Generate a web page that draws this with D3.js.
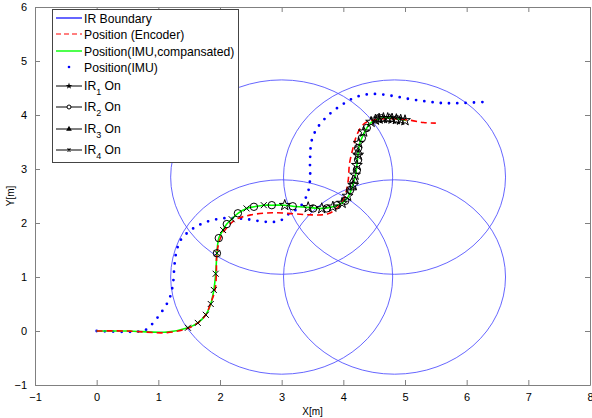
<!DOCTYPE html>
<html>
<head>
<meta charset="utf-8">
<script src="https://cdn.jsdelivr.net/npm/d3@7"></script>
<style>
  body { margin: 0; background: #fff; }
  svg { font-family: "Liberation Sans", Arial, sans-serif; }
</style>
</head>
<body>
<svg id="chart" width="592" height="418"></svg>
<script>
// IR sensor coverage circles (centre x, centre y, radius) in metres
const irCenterX = [3.0, 4.83, 3.0, 4.83];
const irCenterY = [2.85, 2.85, 1.0, 1.0];
const irRadius = 1.8;

// trajectories [x, y] in metres
const encoderPath = [[0,0],[0.5,0],[1.14,-0.03],[1.48,0.05],[1.64,0.15],[1.77,0.3],[1.85,0.52],[1.92,0.76],[1.94,1.04],[1.95,1.44],[2.0,1.7],[2.1,1.9],[2.25,2.06],[2.5,2.15],[2.85,2.19],[3.2,2.17],[3.5,2.15],[3.75,2.17],[3.92,2.3],[4.03,2.52],[4.08,2.8],[4.1,3.1],[4.16,3.4],[4.23,3.66],[4.35,3.85],[4.5,3.91],[4.8,3.93],[5.1,3.9],[5.3,3.86],[5.5,3.85]];
const imuCompPath = [[0,0],[0.5,0],[1.14,-0.02],[1.48,0.06],[1.64,0.15],[1.77,0.3],[1.85,0.5],[1.9,0.76],[1.93,1.06],[1.95,1.44],[1.98,1.72],[2.05,1.87],[2.11,1.98],[2.19,2.07],[2.29,2.18],[2.43,2.27],[2.55,2.3],[2.71,2.33],[2.84,2.33],[3.05,2.33],[3.18,2.31],[3.43,2.29],[3.65,2.27],[3.83,2.3],[3.98,2.37],[4.07,2.47],[4.13,2.62],[4.19,2.85],[4.22,3.07],[4.24,3.3],[4.26,3.45],[4.31,3.6],[4.38,3.76],[4.46,3.87],[4.6,3.94],[4.8,3.94],[5.02,3.9]];
const imuPath = [[0,0],[0.75,0],[0.83,0.05],[1.02,0.3],[1.18,0.6],[1.24,0.9],[1.26,1.2],[1.29,1.45],[1.36,1.68],[1.54,1.88],[1.78,2.02],[2.08,2.09],[2.43,2.07],[2.76,2.02],[2.97,2.04],[3.13,2.18],[3.3,2.3],[3.42,2.55],[3.46,2.8],[3.46,3.17],[3.49,3.54],[3.59,3.78],[3.78,4.02],[3.98,4.19],[4.2,4.33],[4.46,4.39],[4.76,4.36],[5.05,4.3],[5.35,4.25],[5.62,4.22],[5.89,4.22],[6.26,4.24]];

// IR detections
const ir1On = [[3.05,2.33],[3.43,2.29],[3.65,2.27],[3.83,2.3],[3.98,2.37],[4.07,2.5],[4.16,2.7],[4.19,2.89],[4.22,3.07],[4.24,3.26],[4.25,3.48],[4.33,3.69],[4.45,3.87],[4.52,3.91],[4.58,3.93],[4.65,3.94],[4.72,3.94],[4.79,3.93],[4.86,3.92],[4.93,3.91],[5.0,3.9]];
const ir2On = [[1.95,1.44],[1.98,1.72],[2.11,1.98],[2.29,2.18],[2.55,2.3],[2.84,2.33],[3.18,2.31],[3.51,2.27],[3.73,2.27],[3.9,2.33],[4.03,2.41],[4.11,2.61],[4.22,2.98],[4.24,3.17],[4.24,3.39],[4.3,3.57],[4.38,3.76],[4.62,3.94],[4.87,3.92]];
const ir3On = [[4.14,2.66],[4.17,2.8],[4.24,3.31],[4.55,3.92],[4.75,3.93]];
const ir4On = [[1.48,0.06],[1.64,0.15],[1.77,0.3],[1.85,0.5],[1.9,0.76],[1.93,1.06],[1.95,1.44],[2.05,1.87],[2.19,2.07],[2.43,2.27],[2.71,2.33]];

const xTicks = [-1, 0, 1, 2, 3, 4, 5, 6, 7, 8];
const yTicks = [-1, 0, 1, 2, 3, 4, 5, 6];
const legendLabels = ["IR Boundary", "Position (Encoder)", "Position(IMU,compansated)", "Position(IMU)", "IR1", "IR2", "IR3", "IR4"];

const svg = d3.select("#chart");
const plotLeft = 35, plotRight = 590, plotTop = 7, plotBottom = 385;
const axisGray = "#808080";

const x = d3.scaleLinear().domain([-1, 8]).range([plotLeft, plotRight]);
const y = d3.scaleLinear().domain([-1, 6]).range([plotBottom, plotTop]);

// axes: MATLAB style box with inward ticks on all sides
const tickLen = 5;
svg.append("g").attr("transform", `translate(0,${plotBottom})`)
    .call(d3.axisBottom(x).tickValues(xTicks).tickSizeInner(-tickLen).tickSizeOuter(0).tickPadding(8).tickFormat(d3.format("d")));
svg.append("g").attr("transform", `translate(0,${plotTop})`)
    .call(d3.axisTop(x).tickValues(xTicks).tickSizeInner(-tickLen).tickSizeOuter(0).tickFormat(""));
svg.append("g").attr("transform", `translate(${plotLeft},0)`)
    .call(d3.axisLeft(y).tickValues(yTicks).tickSizeInner(-tickLen).tickSizeOuter(0).tickPadding(8).tickFormat(d3.format("d")));
svg.append("g").attr("transform", `translate(${plotRight},0)`)
    .call(d3.axisRight(y).tickValues(yTicks).tickSizeInner(-tickLen).tickSizeOuter(0).tickFormat(""));

svg.selectAll(".domain").attr("stroke", axisGray);
svg.selectAll(".tick line").attr("stroke", axisGray);
svg.selectAll(".tick text").attr("font-size", 11).attr("fill", "#000")
    .attr("font-family", "'Liberation Sans', Arial, sans-serif");

svg.append("text").attr("x", (plotLeft + plotRight) / 2).attr("y", 415)
    .attr("text-anchor", "middle").attr("font-size", 10).text("X[m]");
svg.append("text").attr("transform", `translate(14,${(plotTop + plotBottom) / 2}) rotate(-90)`)
    .attr("text-anchor", "middle").attr("font-size", 10).text("Y[m]");

const plot = svg.append("g");

// IR boundary circles
plot.selectAll("ellipse.ir")
    .data(irCenterX.map((cx, i) => [cx, irCenterY[i]]))
    .enter().append("ellipse")
    .attr("class", "ir")
    .attr("cx", d => x(d[0])).attr("cy", d => y(d[1]))
    .attr("rx", x(irRadius) - x(0)).attr("ry", y(0) - y(irRadius))
    .attr("fill", "none").attr("stroke", "#5555ff").attr("stroke-width", 0.9);

const line = d3.line().x(d => x(d[0])).y(d => y(d[1])).curve(d3.curveCatmullRom);

plot.append("path").attr("d", line(imuPath))
    .attr("fill", "none").attr("stroke", "#0000ff").attr("stroke-width", 2.8)
    .attr("stroke-linecap", "round").attr("stroke-dasharray", "0 8.3");

plot.append("path").attr("d", line(imuCompPath))
    .attr("fill", "none").attr("stroke", "#00ff00").attr("stroke-width", 1.6);

plot.append("path").attr("d", line(encoderPath))
    .attr("fill", "none").attr("stroke", "#ff0000").attr("stroke-width", 1.6)
    .attr("stroke-dasharray", "6 4");

// marker shapes
const starPath = d3.symbol().type(d3.symbolStar).size(36)();
const trianglePath = d3.symbol().type(d3.symbolTriangle).size(32)();
const crossPath = "M-3,-3L3,3M-3,3L3,-3";

function drawMarkers(data, shape) {
    const g = plot.append("g");
    data.forEach(d => {
        const tx = x(d[0]), ty = y(d[1]);
        if (shape === "circle") {
            g.append("circle").attr("cx", tx).attr("cy", ty).attr("r", 3.7)
                .attr("fill", "none").attr("stroke", "#000").attr("stroke-width", 1);
        } else {
            const p = shape === "star" ? starPath : shape === "triangle" ? trianglePath : crossPath;
            g.append("path").attr("d", p).attr("transform", `translate(${tx},${ty})`)
                .attr("fill", "none").attr("stroke", "#000").attr("stroke-width", 1);
        }
    });
}
drawMarkers(ir4On, "cross");
drawMarkers(ir2On, "circle");
drawMarkers(ir3On, "triangle");
drawMarkers(ir1On, "star");

// legend
const lg = svg.append("g");
lg.append("rect").attr("x", 52.5).attr("y", 9.5).attr("width", 186).attr("height", 153)
    .attr("fill", "#fff").attr("stroke", "#444").attr("stroke-width", 1);
const rowY = [18, 34, 51, 67, 85, 106, 128, 149];
const sx0 = 56, sx1 = 82, tx0 = 84;
rowY.forEach((ry, i) => {
    if (i === 0) {
        lg.append("line").attr("x1", sx0).attr("x2", sx1).attr("y1", ry).attr("y2", ry)
            .attr("stroke", "#0000ff").attr("stroke-width", 1.2);
    } else if (i === 1) {
        lg.append("line").attr("x1", sx0).attr("x2", sx1).attr("y1", ry).attr("y2", ry)
            .attr("stroke", "#ff0000").attr("stroke-width", 1.2).attr("stroke-dasharray", "5 3");
    } else if (i === 2) {
        lg.append("line").attr("x1", sx0).attr("x2", sx1).attr("y1", ry).attr("y2", ry)
            .attr("stroke", "#00ff00").attr("stroke-width", 1.4);
    } else if (i === 3) {
        lg.append("circle").attr("cx", (sx0 + sx1) / 2).attr("cy", ry).attr("r", 1.3).attr("fill", "#0000ff");
    } else {
        lg.append("line").attr("x1", sx0).attr("x2", sx1).attr("y1", ry + 1).attr("y2", ry + 1)
            .attr("stroke", "#000").attr("stroke-width", 1);
        const mx = (sx0 + sx1) / 2, my = ry + 1;
        if (i === 4) lg.append("path").attr("d", d3.symbol().type(d3.symbolStar).size(14)())
            .attr("transform", `translate(${mx},${my})`).attr("fill", "#000");
        if (i === 5) lg.append("circle").attr("cx", mx).attr("cy", my).attr("r", 2)
            .attr("fill", "#fff").attr("stroke", "#000");
        if (i === 6) lg.append("path").attr("d", d3.symbol().type(d3.symbolTriangle).size(14)())
            .attr("transform", `translate(${mx},${my})`).attr("fill", "#000");
        if (i === 7) lg.append("path").attr("d", "M-1.5,-1.5L1.5,1.5M-1.5,1.5L1.5,-1.5")
            .attr("transform", `translate(${mx},${my})`).attr("stroke", "#000").attr("stroke-width", 1.2);
    }
    const t = lg.append("text").attr("x", tx0).attr("y", ry + 4.5).attr("font-size", 12.2);
    if (i < 4) {
        t.text(legendLabels[i]);
    } else {
        t.append("tspan").text("IR");
        t.append("tspan").attr("font-size", 9).attr("dy", 5).text(legendLabels[i].slice(2));
        t.append("tspan").attr("dy", -5).text(" On");
    }
});
</script>
</body>
</html>
